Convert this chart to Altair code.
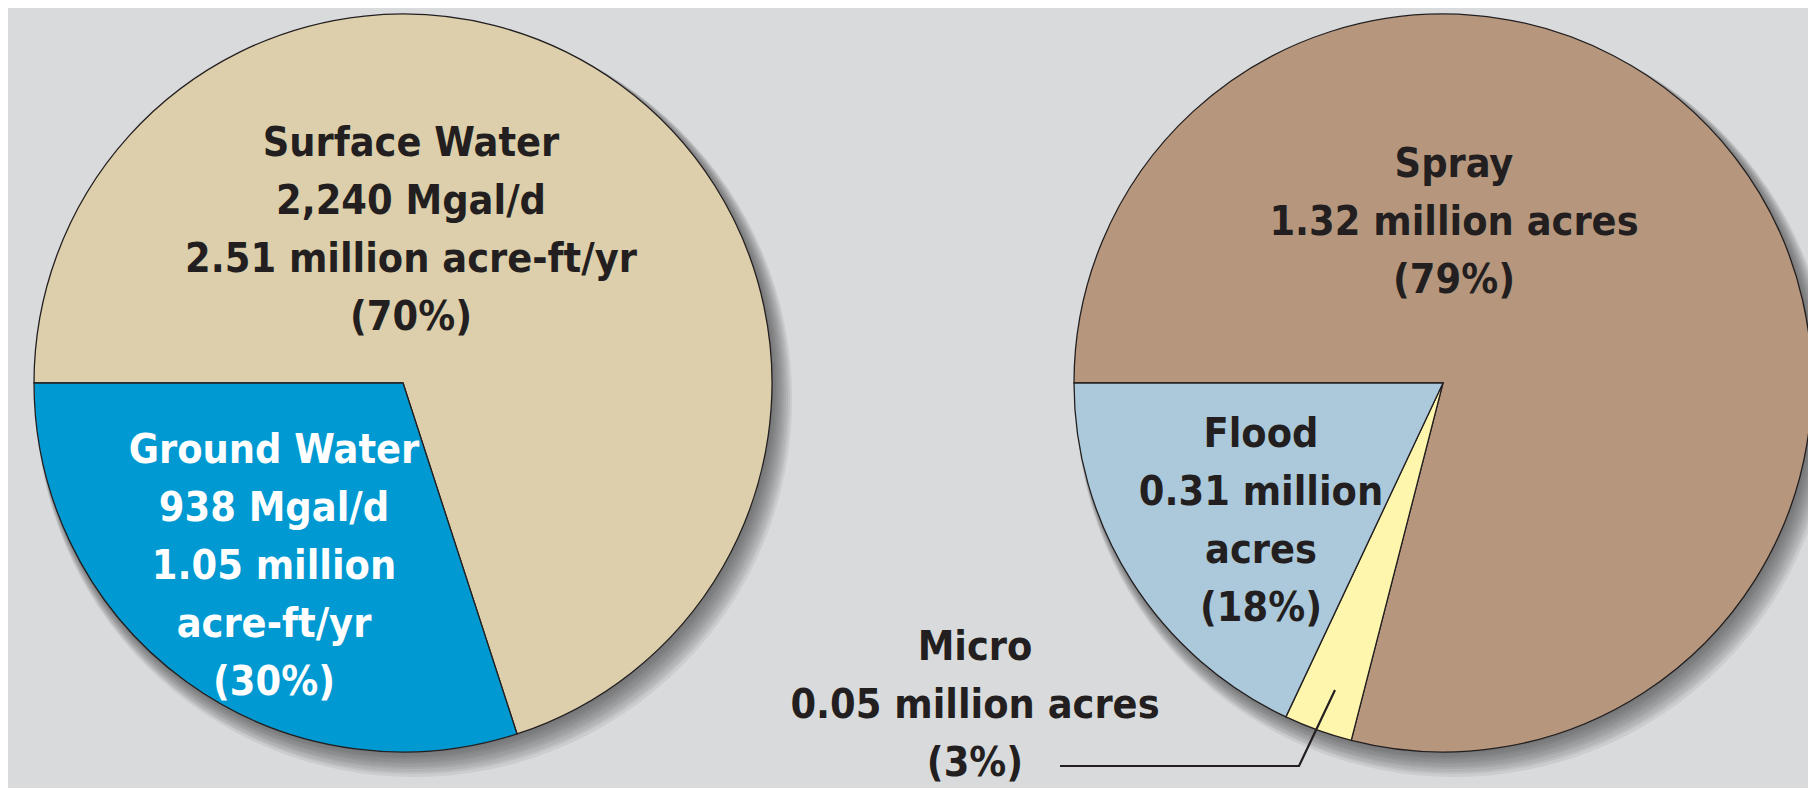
import math
import altair as alt
import pandas as pd

# ---------------- data ----------------
W, H = 1800, 780
X_DOMAIN = [8, 1808]   # image pixel coordinates (page has 8px margin)
Y_DOMAIN = [8, 788]

pie_ids = ["source", "irrigation"]
pie_cx = [403, 1443]
pie_cy = [383, 383]
PIE_R = 369

source_categories = ["Surface Water", "Ground Water"]
source_percent = [70, 30]
irrigation_categories = ["Spray", "Micro", "Flood"]
irrigation_percent = [79, 3, 18]

all_categories = source_categories + irrigation_categories
all_colors = ["#ddcfab", "#0099d1", "#b6977d", "#fff6ad", "#acc9db"]

label_texts = [
    "Surface Water\n2,240 Mgal/d\n2.51 million acre-ft/yr\n(70%)",
    "Ground Water\n938 Mgal/d\n1.05 million\nacre-ft/yr\n(30%)",
    "Spray\n1.32 million acres\n(79%)",
    "Flood\n0.31 million\nacres\n(18%)",
    "Micro\n0.05 million acres\n(3%)",
]
label_keys = ["Surface Water", "Ground Water", "Spray", "Flood", "Micro"]
label_x = [411, 274, 1454, 1261, 975]
label_y = [156, 463, 177, 447, 660]
label_line_height = 58

leader_x = [1060, 1299, 1335]
leader_y = [766, 766, 690]

# soft drop shadow: rings (offset dx, dy, extra radius)
shadow_dx = [2, 3, 4, 5, 6, 7, 8, 9, 10, 11]
shadow_dy = [2, 4, 5, 7, 8, 10, 11, 13, 14, 16]
shadow_extra = [0, 1, 2, 3, 4, 5, 6, 7, 8, 9]

# ---------------- tables ----------------
rows = []
for i, (c, v) in enumerate(zip(source_categories, source_percent)):
    rows.append(dict(pie=pie_ids[0], category=c, value=v, order=i, cx=pie_cx[0], cy=pie_cy[0]))
for i, (c, v) in enumerate(zip(irrigation_categories, irrigation_percent)):
    rows.append(dict(pie=pie_ids[1], category=c, value=v, order=i, cx=pie_cx[1], cy=pie_cy[1]))
arc_df = pd.DataFrame(rows)

label_df = pd.DataFrame(dict(key=label_keys, text=label_texts, x=label_x, y=label_y))
leader_df = pd.DataFrame(dict(x=leader_x, y=leader_y, i=list(range(len(leader_x)))))

FONT = "DejaVu Sans Condensed"

xs = alt.Scale(domain=X_DOMAIN, nice=False, zero=False)
ys = alt.Scale(domain=Y_DOMAIN, nice=False, zero=False, reverse=True)

shadow_layers = []
for dx, dy, ex in zip(shadow_dx, shadow_dy, shadow_extra):
    sdf = pd.DataFrame(dict(cx=[c + dx for c in pie_cx], cy=[c + dy for c in pie_cy]))
    shadow_layers.append(
        alt.Chart(sdf).mark_arc(
            theta=0, theta2=2 * math.pi, outerRadius=PIE_R + ex, color="#3a3a3c", opacity=0.085
        ).encode(
            x=alt.X("cx:Q", scale=xs, axis=None),
            y=alt.Y("cy:Q", scale=ys, axis=None),
        )
    )

arcs = alt.Chart(arc_df).transform_window(
    cum="sum(value)", groupby=["pie"], sort=[alt.SortField("order")]
).transform_calculate(
    start="datum.cum - datum.value"
).mark_arc(
    outerRadius=PIE_R, stroke="#231f20", strokeWidth=1.3
).encode(
    x=alt.X("cx:Q", scale=xs, axis=None),
    y=alt.Y("cy:Q", scale=ys, axis=None),
    theta=alt.Theta("start:Q", scale=alt.Scale(domain=[0, 100], range=[1.5 * math.pi, 3.5 * math.pi]), stack=None),
    theta2="cum:Q",
    color=alt.Color("category:N", scale=alt.Scale(domain=all_categories, range=all_colors), legend=None),
)

leader = alt.Chart(leader_df).mark_line(color="#231f20", strokeWidth=2.2).encode(
    x=alt.X("x:Q", scale=xs, axis=None),
    y=alt.Y("y:Q", scale=ys, axis=None),
    order="i:Q",
)

labels = alt.Chart(label_df).mark_text(
    font=FONT, fontSize=41, fontWeight="bold", lineBreak="\n", lineHeight=label_line_height,
    baseline="alphabetic", align="center",
).encode(
    x=alt.X("x:Q", scale=xs, axis=None),
    y=alt.Y("y:Q", scale=ys, axis=None),
    text="text:N",
    color=alt.condition(alt.datum.key == "Ground Water", alt.value("#ffffff"), alt.value("#231f20")),
)

chart = alt.layer(*shadow_layers, arcs, leader, labels).properties(
    width=W, height=H, background="#d9dadc", padding=0,
    autosize=alt.AutoSizeParams(type="none"),
).configure_view(stroke=None)

chart.save("out.html", embed_options={"renderer": "svg", "actions": False})
